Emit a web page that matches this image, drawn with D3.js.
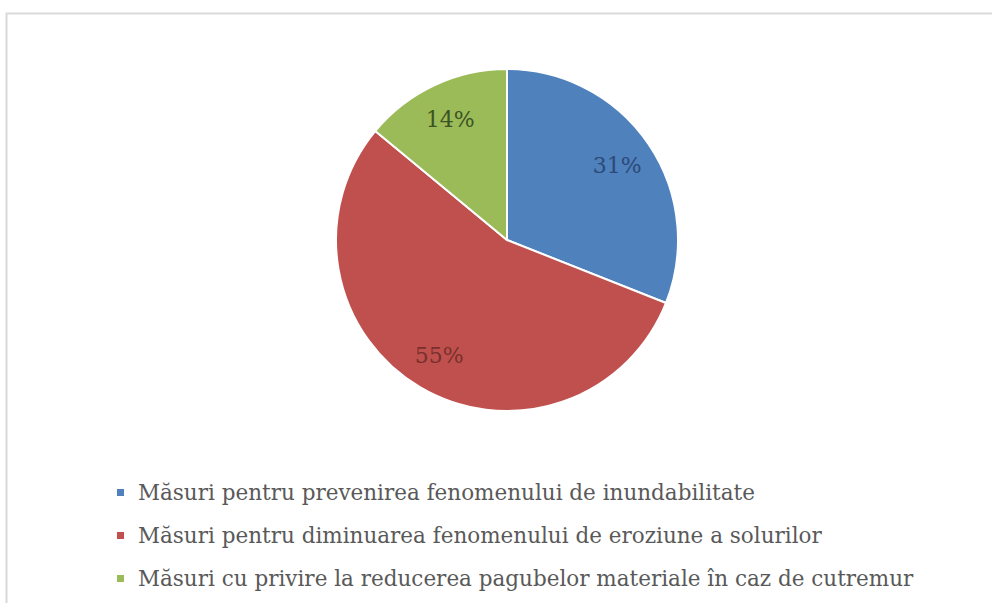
<!DOCTYPE html>
<html>
<head>
<meta charset="utf-8">
<script src="https://cdn.jsdelivr.net/npm/d3@7"></script>
<style>
  html, body { margin: 0; padding: 0; background: #ffffff; }
  svg { display: block; }
</style>
</head>
<body>
<svg id="chart" width="992" height="603"></svg>
<script>
// Share of measures by type (percent)
const categories = [
  "Măsuri pentru prevenirea fenomenului de inundabilitate",
  "Măsuri pentru diminuarea fenomenului de eroziune a solurilor",
  "Măsuri cu privire la reducerea pagubelor materiale în caz de cutremur"
];
const values = [31, 55, 14];
const sliceColors = ["#4f81bd", "#c0504d", "#9bbb59"];
const labelColors = ["#2c4a78", "#78302d", "#3d5321"];

const svg = d3.select("#chart");
const W = 992, H = 603;

// chart area frame
svg.append("rect")
  .attr("x", 6.5).attr("y", 13.5)
  .attr("width", W + 20).attr("height", H + 20)
  .attr("fill", "none")
  .attr("stroke", "#d9d9d9")
  .attr("stroke-width", 2);

const cx = 507, cy = 240, R = 171;

const data = categories.map((c, i) => ({ name: c, value: values[i], i }));

const pie = d3.pie().sort(null).value(d => d.value);
const arcs = pie(data);

const arc = d3.arc().innerRadius(0).outerRadius(R);
const labelArc = d3.arc().innerRadius(R * 0.78).outerRadius(R * 0.78);

const g = svg.append("g").attr("transform", `translate(${cx},${cy})`);

g.selectAll("path.slice")
  .data(arcs)
  .join("path")
  .attr("class", "slice")
  .attr("d", arc)
  .attr("fill", d => sliceColors[d.data.i])
  .attr("stroke", "#ffffff")
  .attr("stroke-width", 2)
  .attr("stroke-linejoin", "round");

g.selectAll("text.pct")
  .data(arcs)
  .join("text")
  .attr("class", "pct")
  .attr("transform", d => {
    const [x, y] = labelArc.centroid(d);
    return `translate(${x},${y})`;
  })
  .attr("text-anchor", "middle")
  .attr("dy", "0.35em")
  .attr("font-family", "'DejaVu Serif', 'Liberation Serif', serif")
  .attr("font-size", 22)
  .attr("fill", d => labelColors[d.data.i])
  .text(d => d3.format(".0%")(d.data.value / 100));

// legend
const legend = svg.append("g").attr("transform", "translate(117,492)");
const rowH = 43;
const items = legend.selectAll("g.item")
  .data(data)
  .join("g")
  .attr("class", "item")
  .attr("transform", (d, i) => `translate(0,${i * rowH})`);

items.append("rect")
  .attr("x", 0).attr("y", -3)
  .attr("width", 7).attr("height", 7)
  .attr("fill", d => sliceColors[d.i]);

items.append("text")
  .attr("x", 21)
  .attr("y", 0)
  .attr("dy", "0.35em")
  .attr("font-family", "'DejaVu Serif', 'Liberation Serif', serif")
  .attr("font-size", 21.5)
  .attr("fill", "#595959")
  .text(d => d.name);
</script>
</body>
</html>
